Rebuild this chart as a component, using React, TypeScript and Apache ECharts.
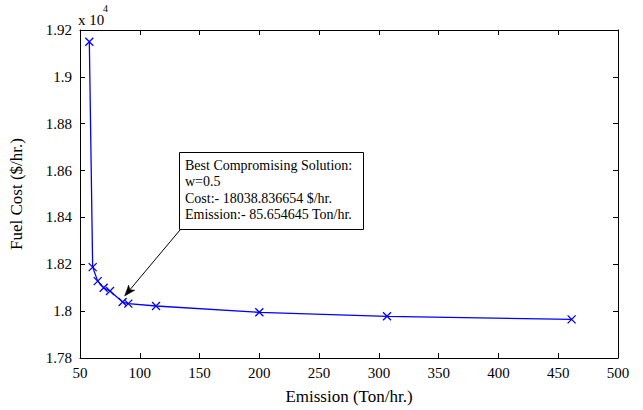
import React, { useEffect, useRef } from "react";
import * as echarts from "echarts";

// Pareto front: emission (Ton/hr.) vs fuel cost ($/hr.)
const emission = [57.8, 60.6, 64.8, 69.8, 75.1, 85.654645, 90.4, 113.6, 200.0, 306.8, 461.2];
const fuelCost = [19150, 18188, 18128, 18100, 18086, 18038.836654, 18032, 18022, 17995, 17978, 17965];

const bestIndex = 5;
const bestWeight = "0.5";
const noteLines = [
  "Best Compromising Solution:",
  `w=${bestWeight}`,
  `Cost:- ${fuelCost[bestIndex].toFixed(6)} $/hr.`,
  `Emission:- ${emission[bestIndex].toFixed(6)} Ton/hr.`,
];

const FONT = "'Liberation Serif', 'Times New Roman', serif";
const BLUE = "#0000ff";

export default function App() {
  const ref = useRef<HTMLDivElement>(null);

  useEffect(() => {
    if (!ref.current) return;
    const chart = echarts.init(ref.current, null, { renderer: "svg" });

    const axisCommon = {
      axisLine: { show: true, lineStyle: { color: "#000", width: 1 } },
      axisTick: { show: true, inside: true, length: 5, lineStyle: { color: "#000" } },
      splitLine: { show: false },
    };

    chart.setOption({
      animation: false,
      backgroundColor: "#fff",
      grid: { left: 79, right: 25, top: 30, bottom: 49, containLabel: false },
      xAxis: [
        {
          type: "value",
          min: 50,
          max: 500,
          interval: 50,
          position: "bottom",
          name: "Emission (Ton/hr.)",
          nameLocation: "middle",
          nameGap: 30,
          nameTextStyle: { fontFamily: FONT, fontSize: 17, color: "#000" },
          axisLabel: { fontFamily: FONT, fontSize: 15, color: "#000", margin: 7 },
          ...axisCommon,
        },
        {
          type: "value",
          min: 50,
          max: 500,
          interval: 50,
          position: "top",
          axisLabel: { show: false },
          ...axisCommon,
        },
      ],
      yAxis: [
        {
          type: "value",
          min: 17800,
          max: 19200,
          interval: 200,
          position: "left",
          name: "Fuel Cost ($/hr.)",
          nameLocation: "middle",
          nameGap: 55,
          nameTextStyle: { fontFamily: FONT, fontSize: 17, color: "#000" },
          axisLabel: {
            fontFamily: FONT,
            fontSize: 15,
            color: "#000",
            margin: 8,
            formatter: (v: number) => String(parseFloat((v / 10000).toFixed(4))),
          },
          ...axisCommon,
        },
        {
          type: "value",
          min: 17800,
          max: 19200,
          interval: 200,
          position: "right",
          axisLabel: { show: false },
          ...axisCommon,
        },
      ],
      series: [
        {
          type: "line",
          data: emission.map((e, i) => [e, fuelCost[i]]),
          symbol: "path://M0 0L10 10M10 0L0 10",
          symbolSize: 8,
          showSymbol: true,
          lineStyle: { color: BLUE, width: 1.3 },
          itemStyle: { color: BLUE, borderColor: BLUE, borderWidth: 1.3 },
          emphasis: { disabled: true },
        },
      ],
    });

    // Annotation: text box with an arrow pointing to the compromise solution
    const p = chart.convertToPixel({ xAxisIndex: 0, yAxisIndex: 0 }, [
      emission[bestIndex],
      fuelCost[bestIndex],
    ]) as number[];
    const tip = [p[0] + 2, p[1] - 6];
    const tail = [180, 230];
    const dx = tip[0] - tail[0];
    const dy = tip[1] - tail[1];
    const len = Math.hypot(dx, dy);
    const ux = dx / len;
    const uy = dy / len;
    const headLen = 11;
    const headW = 4;
    const bx = tip[0] - ux * headLen;
    const by = tip[1] - uy * headLen;
    const head = [
      [tip[0], tip[1]],
      [bx - uy * headW, by + ux * headW],
      [tip[0] - ux * headLen * 0.75, tip[1] - uy * headLen * 0.75],
      [bx + uy * headW, by - ux * headW],
    ];

    chart.setOption({
      graphic: [
        {
          type: "line",
          shape: { x1: tail[0], y1: tail[1], x2: tip[0] - ux * 8, y2: tip[1] - uy * 8 },
          style: { stroke: "#000", lineWidth: 1 },
        },
        {
          type: "polygon",
          shape: { points: head },
          style: { fill: "#000", stroke: "#000", lineWidth: 0.5 },
        },
        {
          type: "rect",
          shape: { x: 179.5, y: 152.5, width: 184, height: 77 },
          style: { fill: "#fff", stroke: "#000", lineWidth: 1 },
        },
        {
          type: "text",
          x: 185,
          y: 157,
          style: {
            text: noteLines.join("\n"),
            font: `14px ${FONT}`,
            fill: "#000",
            lineHeight: 16.5,
            textVerticalAlign: "top",
          },
        },
        // axis exponent "x 10^4"
        {
          type: "text",
          x: 78,
          y: 27,
          style: {
            text: "x 10",
            font: `15px ${FONT}`,
            fill: "#000",
            textVerticalAlign: "bottom",
          },
        },
        {
          type: "text",
          x: 103,
          y: 3,
          style: {
            text: "4",
            font: `10px ${FONT}`,
            fill: "#000",
            textVerticalAlign: "top",
          },
        },
      ],
    });

    return () => chart.dispose();
  }, []);

  return (
    <div
      ref={ref}
      style={{ position: "fixed", left: 0, top: 0, width: 643, height: 410, background: "#fff" }}
    />
  );
}
